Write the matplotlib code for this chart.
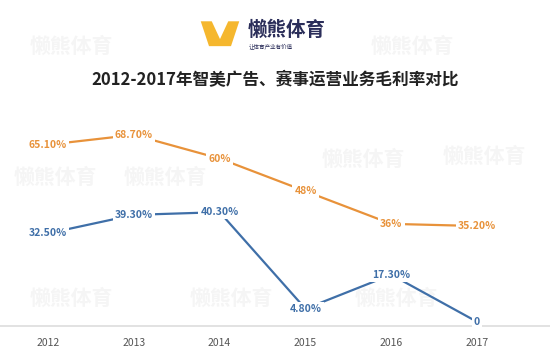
import matplotlib.pyplot as plt
from matplotlib.patches import Polygon

plt.rcParams['font.family'] = ['Noto Sans CJK SC', 'DejaVu Sans']

years = ["2012", "2013", "2014", "2015", "2016", "2017"]
ad_margin = [65.1, 68.7, 60, 48, 36, 35.2]
event_margin = [32.5, 39.3, 40.3, 4.8, 17.3, 0]
ad_labels = ["65.10%", "68.70%", "60%", "48%", "36%", "35.20%"]
event_labels = ["32.50%", "39.30%", "40.30%", "4.80%", "17.30%", "0"]

orange = "#E8923A"
blue = "#3F6FA8"

fig = plt.figure(figsize=(5.5, 3.55), dpi=100)
ax = fig.add_axes([0, 0.082, 1, 0.617])
x = list(range(len(years)))

# faint watermarks (behind everything)
for (wx, wy) in [(0.13, 0.87), (0.75, 0.87), (0.1, 0.5), (0.3, 0.5),
                 (0.66, 0.55), (0.88, 0.56), (0.13, 0.16), (0.42, 0.16), (0.72, 0.16)]:
    fig.text(wx, wy, "懒熊体育", fontsize=15, fontweight="bold", color="#f5f5f5",
             ha="center", va="center", zorder=-5)

ax.plot(x, ad_margin, color=orange, lw=1.6, zorder=2)
ax.plot(x, event_margin, color=blue, lw=1.6, zorder=2)

for xi, v, s in zip(x, ad_margin, ad_labels):
    ax.text(xi, v, s, color=orange, fontsize=7.5, fontweight="bold", ha="center", va="center",
            bbox=dict(facecolor="white", edgecolor="none", pad=1.5), zorder=3)
for xi, v, s in zip(x, event_margin, event_labels):
    ax.text(xi, v, s, color=blue, fontsize=7.5, fontweight="bold", ha="center", va="center",
            bbox=dict(facecolor="white", edgecolor="none", pad=1.5), zorder=3)

ax.set_xlim(-0.56, 5.85)
ax.set_ylim(-1.5, 79)
ax.set_xticks(x)
ax.set_xticklabels(years, fontsize=7.5, color="#555555")
ax.set_yticks([])
for side in ["top", "right", "left"]:
    ax.spines[side].set_visible(False)
ax.spines["bottom"].set_color("#dddddd")
ax.spines["bottom"].set_linewidth(1.2)
ax.tick_params(axis="x", length=0, pad=8.5)
ax.patch.set_alpha(0)

fig.text(0.5, 0.773, "2012-2017年智美广告、赛事运营业务毛利率对比", fontsize=12,
         fontweight="bold", color="#222222", ha="center", va="center")

# logo
fig.patches.append(Polygon([[0.365, 0.94], [0.385, 0.94], [0.4, 0.89], [0.415, 0.94],
                            [0.435, 0.94], [0.42, 0.87], [0.38, 0.87]],
                           closed=True, transform=fig.transFigure, facecolor="#F5B72E",
                           edgecolor="none"))
fig.text(0.45, 0.915, "懒熊体育", fontsize=14, fontweight="bold", color="#2B2E5A",
         ha="left", va="center")
fig.text(0.452, 0.87, "让体育产业有价值", fontsize=4, color="#2B2E5A", ha="left", va="center")

fig.savefig("out.png", dpi=100)
